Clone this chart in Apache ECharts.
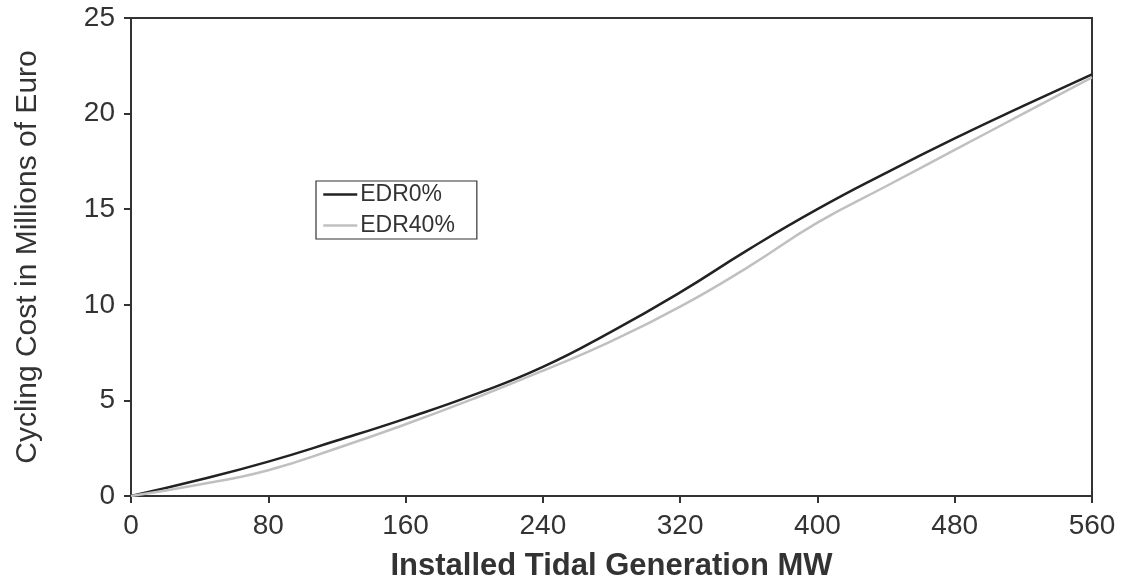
<!DOCTYPE html>
<html>
<head>
<meta charset="utf-8">
<script src="https://cdn.jsdelivr.net/npm/echarts@6/dist/echarts.min.js"></script>
<style>
  html, body { margin: 0; padding: 0; background: #fff; }
  #chart { width: 1127px; height: 581px; }
</style>
</head>
<body>
<div id="chart"></div>
<script>
var mw = [0, 40, 80, 120, 160, 200, 240, 280, 320, 360, 400, 440, 480, 520, 560]
var edr0 = [0, 0.85, 1.8, 2.9, 4.05, 5.3, 6.75, 8.6, 10.65, 12.9, 15.0, 16.9, 18.7, 20.4, 22.05]
var edr40 = [0, 0.6, 1.35, 2.5, 3.75, 5.1, 6.55, 8.1, 9.9, 12.0, 14.3, 16.2, 18.1, 20.0, 21.9]
var xTicks = [0, 80, 160, 240, 320, 400, 480, 560]

function pairs (xs, ys) {
  var out = []
  for (let i = 0; i < xs.length; i++) {
    out.push([xs[i], ys[i]])
  }
  return out
}

var myChart = echarts.init(document.getElementById('chart'))
var font = 'Liberation Sans, Arial, sans-serif'
var option = {
  backgroundColor: '#ffffff',
  animation: false,
  grid: {
    left: 131,
    right: 35,
    top: 18,
    bottom: 85,
    outerBoundsMode: 'none',
    containLabel: false,
    show: true,
    borderColor: '#333333',
    borderWidth: 2
  },
  legend: {
    orient: 'vertical',
    left: 316,
    top: 181,
    padding: [2, 22, 2, 6],
    itemGap: 8,
    itemWidth: 34,
    itemHeight: 14,
    borderColor: '#333333',
    borderWidth: 1.2,
    itemStyle: { opacity: 0 },
    lineStyle: { width: 2.5 },
    textStyle: {
      fontFamily: font,
      fontSize: 23,
      color: '#333333',
      padding: [0, 0, 0, -2]
    },
    data: ['EDR0%', 'EDR40%']
  },
  xAxis: {
    type: 'value',
    min: 0,
    max: 560,
    interval: 80,
    name: 'Installed Tidal Generation MW',
    nameLocation: 'middle',
    nameGap: 55,
    nameTextStyle: {
      fontFamily: font,
      fontSize: 31,
      fontWeight: 'bold',
      color: '#333333'
    },
    axisLine: { lineStyle: { color: '#333333', width: 2 } },
    axisTick: { show: true, length: 7, lineStyle: { color: '#333333', width: 2 } },
    axisLabel: {
      fontFamily: font,
      fontSize: 28,
      color: '#333333',
      margin: 16,
      customValues: xTicks
    },
    splitLine: { show: false }
  },
  yAxis: {
    type: 'value',
    min: 0,
    max: 25,
    interval: 5,
    name: 'Cycling Cost in Millions of Euro',
    nameLocation: 'middle',
    nameGap: 88,
    nameTextStyle: {
      fontFamily: font,
      fontSize: 30,
      color: '#333333'
    },
    axisLine: { show: true, lineStyle: { color: '#333333', width: 2 } },
    axisTick: { show: true, length: 7, lineStyle: { color: '#333333', width: 2 } },
    axisLabel: {
      fontFamily: font,
      fontSize: 28,
      color: '#333333',
      margin: 16
    },
    splitLine: { show: false }
  },
  series: [
    {
      name: 'EDR0%',
      type: 'line',
      smooth: true,
      symbol: 'none',
      data: pairs(mw, edr0),
      itemStyle: { color: '#222222' },
      lineStyle: { color: '#222222', width: 2.5 }
    },
    {
      name: 'EDR40%',
      type: 'line',
      smooth: true,
      symbol: 'none',
      data: pairs(mw, edr40),
      itemStyle: { color: '#c0c0c0' },
      lineStyle: { color: '#c0c0c0', width: 2.5 }
    }
  ]
}
myChart.setOption(option)
</script>
</body>
</html>
